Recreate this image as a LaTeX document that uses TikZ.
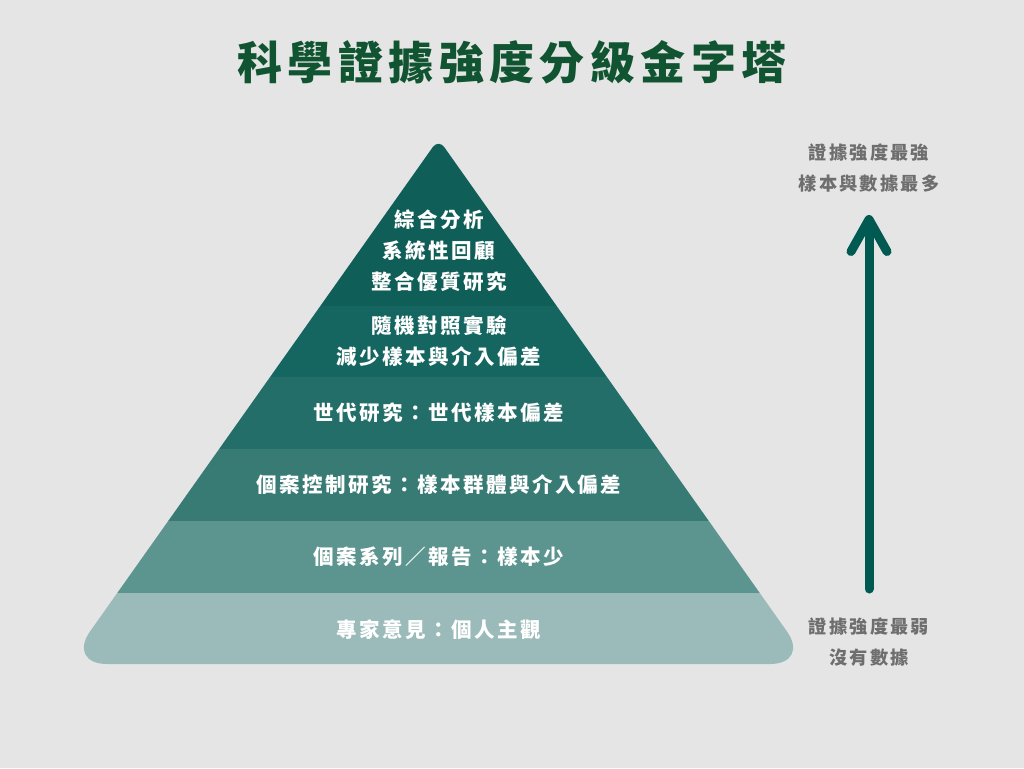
\documentclass[tikz,border=0pt]{standalone}
\usepackage{fontspec}
\usetikzlibrary{arrows.meta}
\newfontfamily\cjk{Noto Sans CJK TC}[LetterSpace=12]

\definecolor{bggray}{RGB}{229,229,229}
\definecolor{titlegreen}{RGB}{16,84,50}
\definecolor{sidegray}{RGB}{110,110,110}
\definecolor{arrowteal}{RGB}{0,90,82}
\definecolor{lay1}{RGB}{16,94,88}
\definecolor{lay2}{RGB}{21,102,96}
\definecolor{lay3}{RGB}{35,110,104}
\definecolor{lay4}{RGB}{56,123,117}
\definecolor{lay5}{RGB}{92,149,143}
\definecolor{lay6}{RGB}{154,187,186}

\begin{document}
\begin{tikzpicture}[x = 1pt, y = -1pt, line width = 1pt,
                    title/.style = {text = titlegreen, font = \cjk\bfseries\fontsize{45}{50}\selectfont},
                    layer/.style = {text = white, font = \cjk\bfseries\fontsize{20.5}{31}\selectfont, align = center},
                    side/.style = {text = sidegray, font = \cjk\bfseries\fontsize{18.2}{31}\selectfont, align = center},
                    strength/.style = {draw = arrowteal, line width = 9pt, line cap = round,
                                       -{Straight Barb[length = 32pt, width = 36pt, round]}}]
      \fill [bggray] (0, 0) rectangle (1024, 768);
      \useasboundingbox (0, 0) rectangle (1024, 768);

      \node [title] (head) at (512, 62){科學證據強度分級金字塔};

      % pyramid bands
      \begin{scope}
        \clip (438.5, 664) [rounded corners = 40] -- (810, 664) [rounded corners = 10] -- (438.5, 139)
              [rounded corners = 40] -- (67, 664) -- cycle;
        \foreach \ytop/\ybot/\col in {130/306/lay1, 306/377/lay2, 377/449/lay3,
                                      449/521/lay4, 521/593/lay5, 593/670/lay6}
          \fill [\col] (0, \ytop) rectangle (1024, \ybot);
      \end{scope}

      \node [layer] (l1) at (439, 251){綜合分析\\系統性回顧\\整合優質研究};
      \node [layer] (l2) at (439, 341.5){隨機對照實驗\\減少樣本與介入偏差};
      \node [layer] (l3) at (439, 413){世代研究：世代樣本偏差};
      \node [layer] (l4) at (439, 485){個案控制研究：樣本群體與介入偏差};
      \node [layer] (l5) at (439, 557){個案系列／報告：樣本少};
      \node [layer] (l6) at (439, 630){專家意見：個人主觀};

      % strength arrow
      \node [side] (strong) at (869, 168.5){證據強度最強\\樣本與數據最多};
      \node [side] (weak) at (869, 642){證據強度最弱\\沒有數據};
      \coordinate (low) at (869, 589);
      \coordinate (high) at (869, 215);
      \draw [strength] (low) -- (high);
    \end{tikzpicture}
\end{document}
